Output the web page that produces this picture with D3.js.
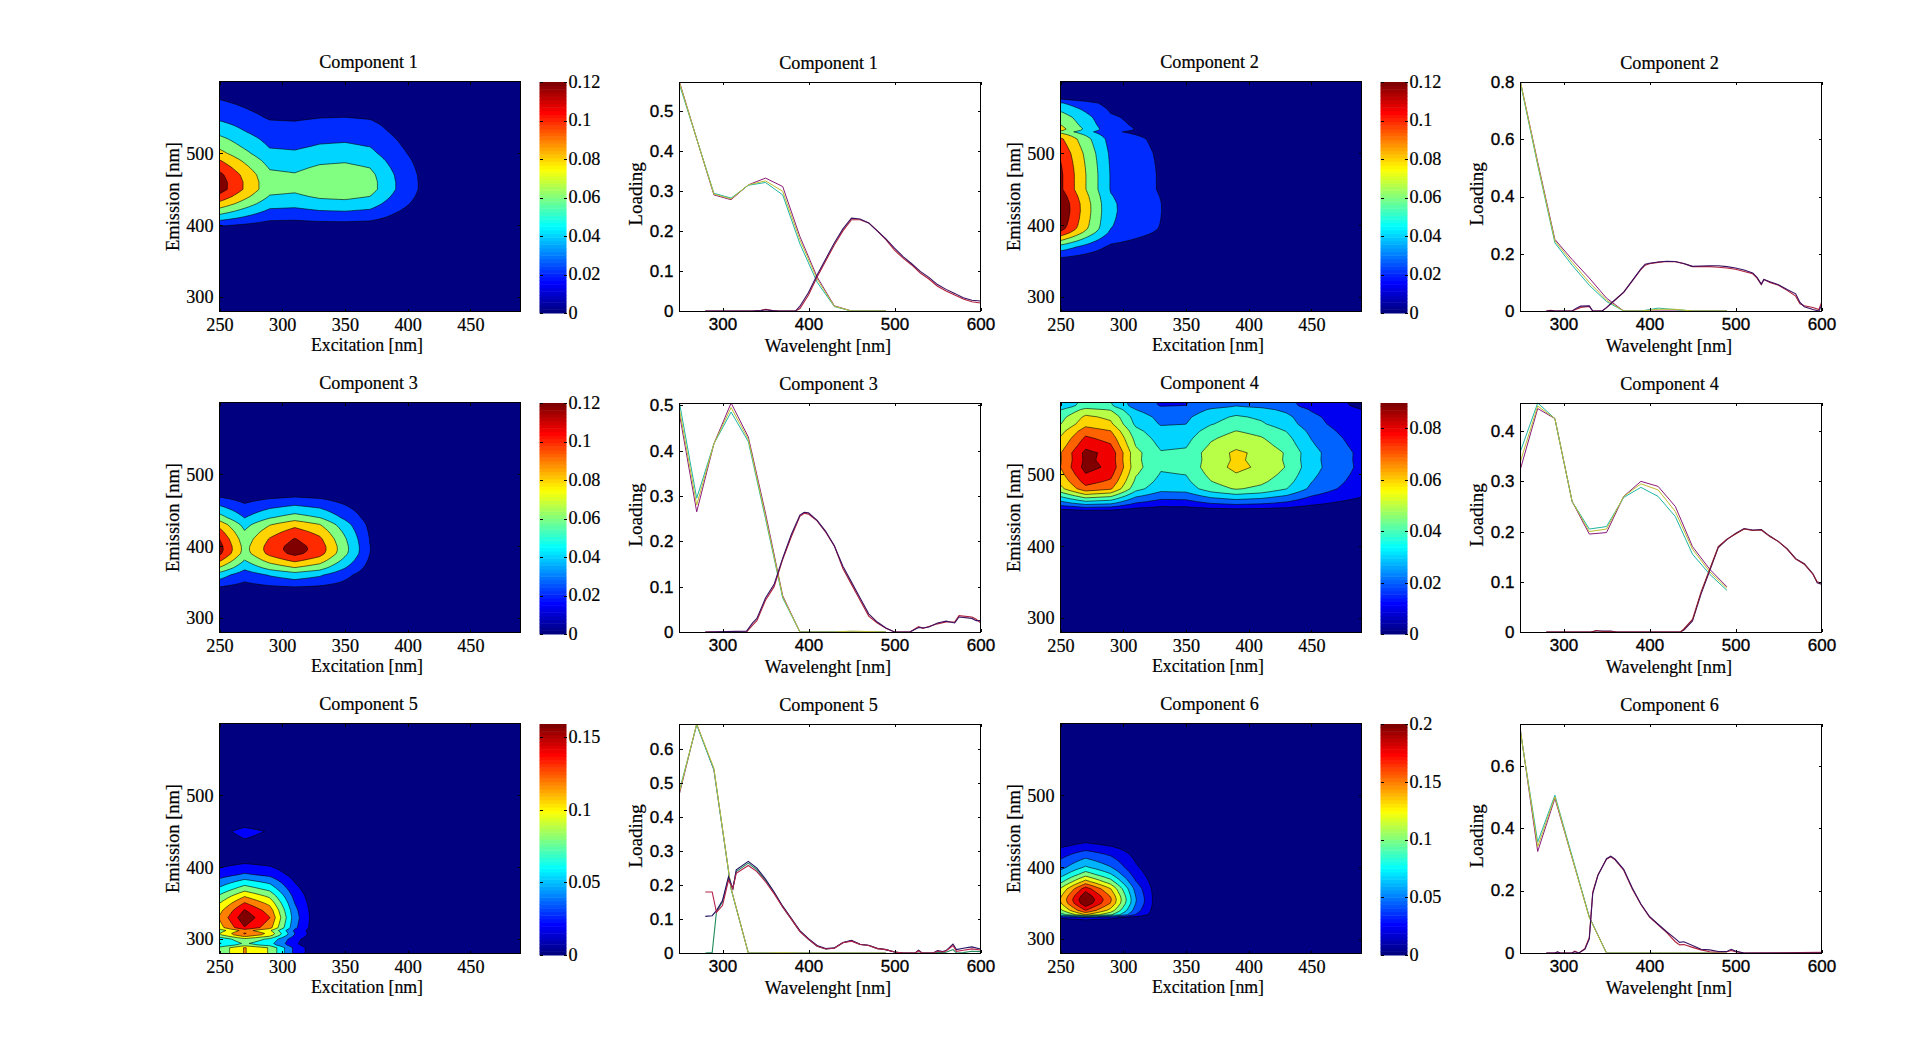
<!DOCTYPE html>
<html><head><meta charset="utf-8"><title>Components</title>
<script src="https://cdn.jsdelivr.net/npm/d3@7"></script>
<style>
html,body{margin:0;padding:0;background:#fff;overflow:hidden}
text{fill:#000}
.s{font-family:"Liberation Serif",serif;font-size:18.2px;stroke:#000;stroke-width:.2px}
.t{font-family:"Liberation Sans",sans-serif;font-size:17px;stroke:#000;stroke-width:.35px}
.axis path{display:none}
.axis line{stroke:#000;stroke-width:1;shape-rendering:crispEdges}
</style></head><body><script>
// Excitation wavelengths (nm) shared by every component
const exWl=[250,270,290,310,330,350,370,390,410,430,450,470,490];
// Excitation loadings (three overlaid split models)
const exA1=[.572,.43,.29,.278,.315,.332,.311,.186,.085,.013,0,0,0];
const exB1=[.57,.43,.292,.28,.315,.325,.299,.178,.08,.012,0,0,0];
const exC1=[.565,.43,.294,.282,.314,.321,.29,.168,.072,.011,0,0,0];
const exA2=[.8,.52,.25,.18,.115,.045,0,0,0,0,0,0,0];
const exB2=[.8,.515,.245,.17,.1,.038,0,0,.006,.006,0,0,0];
const exC2=[.795,.51,.238,.16,.09,.033,0,0,.01,.005,0,0,0];
const exA3=[.48,.265,.415,.505,.43,.262,.08,0,0,0,0,0,0];
const exB3=[.49,.28,.415,.495,.425,.255,.078,0,0,0,.002,.001,0];
const exC3=[.505,.295,.415,.485,.42,.25,.075,0,0,0,0,0,0];
const exA4=[.325,.445,.425,.26,.195,.198,.27,.3,.29,.25,.17,.125,.09];
const exB4=[.34,.45,.425,.26,.2,.205,.27,.295,.283,.24,.165,.12,.087];
const exC4=[.36,.456,.425,.26,.205,.21,.268,.288,.27,.23,.155,.115,.083];
const exA5=[.47,.675,.54,.19,0,0,0,0,0,0,0,0,0];
const exB5=[.475,.675,.545,.19,0,0,.001,0,0,0,0,0,0];
const exC5=[.48,.672,.54,.188,0,0,0,0,0,0,0,0,0];
const exA6=[.712,.325,.495,.305,.115,0,0,0,0,0,0,0,0];
const exB6=[.71,.34,.5,.305,.113,0,0,0,0,0,0,0,0];
const exC6=[.705,.355,.505,.31,.115,0,0,0,0,0,0,0,0];
// Excitation profiles read from the surfaces where they differ from the middle line of the panel
const surfaceEx2=[.8,.52,.25,.18,.118,.045,0,0,0,0,0,0,0];
const surfaceEx4=[.34,.456,.425,.26,.2,.205,.27,.303,.283,.24,.165,.12,.087];
const surfaceEx6=[.46,.72,.53,.2,0,0,0,0,0,0,0,0,0];

// Emission loadings
const emWl1=[280,335,345,350,358,365,385,390,400,410,420,430,440,450,460,470,480,490,500,510,520,530,540,550,560,570,580,590,600];
const emA1=[0,0,.002,.004,.001,0,0,.006,.04,.085,.125,.165,.2,.228,.228,.22,.2,.178,.152,.132,.115,.095,.08,.062,.05,.04,.03,.023,.02];
const emB1=[0,0,.001,.003,.001,0,0,.012,.046,.09,.13,.17,.205,.232,.23,.22,.2,.18,.157,.136,.118,.099,.084,.066,.054,.044,.033,.027,.025];
const emWl2=[280,285,290,310,315,320,330,334,345,350,358,370,380,390,395,400,410,420,430,440,450,460,470,480,490,500,510,520,525,530,533,540,550,560,570,575,580,590,597,600];
const emA2=[0,.002,0,0,.006,.012,.016,0,0,.012,.033,.065,.105,.145,.16,.165,.17,.173,.172,.165,.155,.155,.155,.153,.15,.146,.138,.13,.115,.092,.11,.1,.09,.072,.052,.025,.018,.012,.005,.03];
const emB2=[0,.001,0,0,.01,.017,.018,0,0,.012,.034,.066,.106,.147,.163,.167,.171,.174,.173,.166,.156,.157,.158,.158,.155,.15,.143,.133,.118,.094,.11,.102,.092,.075,.06,.03,.015,.005,0,.02];
const emWl3=[280,328,335,340,350,360,370,380,390,395,400,410,420,430,440,450,460,470,480,490,500,518,528,533,540,550,560,570,575,590,595,600];
const emA3=[0,0,.015,.025,.07,.1,.16,.21,.255,.262,.26,.245,.22,.19,.14,.105,.07,.035,.02,.008,0,0,.012,.008,.012,.018,.022,.022,.036,.033,.028,.02];
const emB3=[0,.002,.02,.03,.075,.105,.163,.215,.258,.264,.263,.246,.222,.19,.145,.11,.075,.04,.022,.009,0,0,.01,.009,.011,.02,.024,.02,.033,.03,.025,.025];
const emWl4=[280,332,338,345,355,362,370,436,440,450,460,470,480,490,500,510,520,530,540,550,560,570,580,590,595,600];
const emA4=[0,0,.003,.001,.001,0,0,0,.006,.025,.08,.125,.17,.185,.195,.205,.202,.203,.19,.18,.165,.145,.135,.115,.1,.097];
const emB4=[0,0,.002,.002,.002,0,0,0,.004,.022,.076,.122,.168,.184,.196,.206,.203,.204,.191,.18,.166,.146,.136,.116,.098,.095];
const emWl5=[280,288,293,300,307,312,316,330,340,350,360,370,380,390,400,410,420,430,440,450,460,470,480,490,500,510,524,528,532,545,550,556,560,568,572,580,590,600];
const emA5=[.18,.18,.12,.14,.215,.19,.235,.258,.24,.21,.175,.135,.1,.063,.04,.02,.012,.014,.03,.035,.025,.022,.013,.01,.003,0,0,.006,0,0,.005,.003,.006,.022,.005,.008,.012,.009];
const emB5=[.108,.11,.125,.155,.225,.19,.245,.27,.25,.218,.18,.138,.102,.066,.042,.022,.013,.015,.031,.037,.026,.023,.014,.01,.003,0,0,.008,0,0,.007,.004,.007,.026,.01,.014,.018,.012];
const emC5=[0,.001,.122,.15,.22,.19,.24,.265,.245,.214,.178,.136,.1,.064,.04,.02,.012,.014,.03,.036,.025,.022,.013,.01,.003,0,0,0,0,0,.002,.001,.002,.01,0,.001,.005,.004];
const emWl6=[280,290,293,296,310,313,318,325,330,334,340,350,355,360,370,380,390,400,410,420,430,435,440,450,460,470,480,490,495,500,510,600];
const emA6=[0,0,.003,0,0,.006,0,.015,.05,.195,.25,.3,.308,.298,.265,.205,.155,.115,.09,.065,.036,.026,.027,.018,.01,.004,.003,.004,.008,.004,0,.002];
const emB6=[0,0,.004,0,0,.004,0,.012,.045,.19,.248,.302,.31,.3,.268,.208,.157,.117,.092,.068,.046,.034,.036,.024,.012,.01,.005,.005,.012,.006,0,0];

// Contour levels, colour bar ranges and tick labels
const levels1=[0,.02,.04,.06,.08,.1,.12];
const levels4=[0,.01,.02,.03,.04,.05,.06,.07,.08,.09];
const levels5=[0,.02,.04,.06,.08,.1,.12,.14,.16];
const levels6=[0,.02,.04,.06,.08,.1,.12,.14,.16,.18,.2];
const cbMax=[.12,.12,.12,.0898,.159,.2];
const cbTicks1=[0,.02,.04,.06,.08,.1,.12];
const cbTicks4=[0,.02,.04,.06,.08];
const cbTicks5=[0,.05,.1,.15];
const cbTicks6=[0,.05,.1,.15,.2];
const lineMax=[.572,.8,.505,.456,.675,.733];
const lineTicks1=[0,.1,.2,.3,.4,.5];
const lineTicks2=[0,.2,.4,.6,.8];
const lineTicks3=[0,.1,.2,.3,.4,.5];
const lineTicks4=[0,.1,.2,.3,.4];
const lineTicks5=[0,.1,.2,.3,.4,.5,.6];
const lineTicks6=[0,.2,.4,.6];
const exTicks=[250,300,350,400,450];
const emTicks=[300,400,500];
const waveTicks=[300,400,500,600];

const redCol="#b0203a", darkCol="#3a1060";
const comps=[
 {n:1,ex:[exA1,exC1,exB1],sx:exB1,em:[[emA1,redCol],[emB1,darkCol]],wl:emWl1,surf:emA1,levels:levels1,cb:cbTicks1,yt:lineTicks1},
 {n:2,ex:[exA2,exC2,exB2],sx:surfaceEx2,em:[[emA2,redCol],[emB2,darkCol]],wl:emWl2,surf:emA2,levels:levels1,cb:cbTicks1,yt:lineTicks2},
 {n:3,ex:[exA3,exC3,exB3],sx:exB3,em:[[emA3,redCol],[emB3,darkCol]],wl:emWl3,surf:emA3,levels:levels1,cb:cbTicks1,yt:lineTicks3},
 {n:4,ex:[exA4,exC4,exB4],sx:surfaceEx4,em:[[emB4,darkCol],[emA4,"#8a1a2a"]],wl:emWl4,surf:emB4,levels:levels4,cb:cbTicks4,yt:lineTicks4},
 {n:5,ex:[exA5,exC5,exB5],sx:exB5,em:[[emC5,"#1f8a5a"],[emB5,"#221060"],[emA5,"#b5204a"]],wl:emWl5,surf:emA5,levels:levels5,cb:cbTicks5,yt:lineTicks5},
 {n:6,ex:[exA6,exC6,exB6],sx:surfaceEx6,em:[[emA6,redCol],[emB6,darkCol]],wl:emWl6,surf:emA6,levels:levels6,cb:cbTicks6,yt:lineTicks6}
];
const exCols=["#8a1a7a","#1fb5a4","#bdbd32"];

const clamp=v=>Math.max(0,Math.min(1,v));
const jet=t=>d3.rgb(255*clamp(Math.min(4*t-1.5,-4*t+4.5)),255*clamp(Math.min(4*t-.5,-4*t+3.5)),255*clamp(Math.min(4*t+.5,-4*t+2.5))).formatRgb();

const svg=d3.select("body").append("svg").attr("width",1921).attr("height",1062);
const rowTop=[81.5,402.5,723.5], H=230;
const colC=[219.5,1060.5], colL=[679.5,1520.5], W=301, cbDx=320, cbW=27;

function text(g,x,y,s,size,rot){
  const t=g.append("text").attr("class","s").attr("text-anchor","middle").style("font-size",size+"px");
  if(rot) t.attr("transform",`translate(${x},${y}) rotate(-90)`); else t.attr("x",x).attr("y",y);
  t.text(s);
}
function frame(g,w,h){
  g.append("rect").attr("width",w).attr("height",h).attr("fill","none").attr("stroke","#000").attr("stroke-width",1).attr("shape-rendering","crispEdges");
}
function ticks(g,x,y,xv,yv,w,h,serif,pad){
  const fmt=d=>String(d);
  const b=g.append("g").attr("class","axis").attr("transform",`translate(0,${h})`)
    .call(d3.axisBottom(x).tickValues(xv).tickSizeInner(-3).tickSizeOuter(0).tickPadding(pad).tickFormat(fmt));
  const l=g.append("g").attr("class","axis")
    .call(d3.axisLeft(y).tickValues(yv).tickSizeInner(-3).tickSizeOuter(0).tickPadding(6).tickFormat(fmt));
  g.append("g").attr("class","axis")
    .call(d3.axisTop(x).tickValues(xv).tickSizeInner(-3).tickSizeOuter(0).tickFormat(""));
  g.append("g").attr("class","axis").attr("transform",`translate(${w},0)`)
    .call(d3.axisRight(y).tickValues(yv).tickSizeInner(-3).tickSizeOuter(0).tickFormat(""));
  b.selectAll("text").attr("class",serif?"s":"t");
  l.selectAll("text").attr("class",serif?"s":"t");
}

comps.forEach((c,i)=>{
  const row=Math.floor(i/2), col=i%2, top=rowTop[row];
  // ---- surface panel
  const g=svg.append("g").attr("transform",`translate(${colC[col]},${top})`);
  const x=d3.scaleLinear().domain([250,490]).range([0,W]);
  const y=d3.scaleLinear().domain([280,600]).range([H,0]);
  const clipId="clip"+c.n;
  g.append("clipPath").attr("id",clipId).append("rect").attr("width",W).attr("height",H);
  // Surface = excitation loading x emission loading (PARAFAC model), both;
  // the emission trace is only resampled onto the 2 nm instrument mesh for contouring.
  const emAt=d3.scaleLinear().domain(c.wl).range(c.surf);
  const emMesh=d3.range(280,601,2);
  const grid=[];
  emMesh.forEach(e=>exWl.forEach((_,j)=>grid.push(c.sx[j]*emAt(e))));
  const top0=c.levels[c.levels.length-1];
  const paint=g.append("g").attr("clip-path",`url(#${clipId})`);
  paint.append("rect").attr("width",W).attr("height",H).attr("fill",jet(0));
  const contours=d3.contours().size([exWl.length,emMesh.length]).thresholds(c.levels.slice(1))(grid);
  const path=d3.geoPath(d3.geoTransform({point(px,py){
    this.stream.point(x(250+(px-.5)*20),y(280+(py-.5)*2));
  }}));
  paint.selectAll("path").data(contours).join("path")
    .attr("d",path).attr("fill",d=>jet(d.value/top0))
    .attr("stroke","#000").attr("stroke-width",.7).attr("stroke-opacity",.85);
  ticks(g,x,y,exTicks,emTicks,W,H,true,6.5);
  frame(g,W,H);
  text(g,W/2-1.5,-13.5,"Component "+c.n,18.2);
  text(g,W/2-3,H+39,"Excitation [nm]",17.8);
  text(g,-40.5,H/2,"Emission [nm]",18.4,true);
  // ---- colour bar
  const cb=svg.append("g").attr("transform",`translate(${colC[col]+cbDx},${top+.5})`);
  const cy=d3.scaleLinear().domain([0,cbMax[i]]).range([H+1,0]);
  const bins=d3.range(64);
  cb.selectAll("rect").data(bins).join("rect")
    .attr("x",0).attr("width",cbW)
    .attr("y",d=>cy((d+1)/64*cbMax[i])).attr("height",d=>cy(d/64*cbMax[i])-cy((d+1)/64*cbMax[i])+.5)
    .attr("fill",d=>jet(d/63));
  const ca=cb.append("g").attr("class","axis").attr("transform",`translate(${cbW},0)`)
    .call(d3.axisRight(cy).tickValues(c.cb).tickSizeInner(-3).tickSizeOuter(0).tickPadding(2).tickFormat(d=>String(d)));
  ca.selectAll("text").attr("class","s").attr("dy","0.3em");
  cb.append("g").attr("class","axis")
    .call(d3.axisLeft(cy).tickValues(c.cb).tickSizeInner(-3).tickSizeOuter(0).tickFormat(""));
  // ---- loading panel
  const h=svg.append("g").attr("transform",`translate(${colL[col]},${top+.5})`);
  const lx=d3.scaleLinear().domain([250,600]).range([0,W]);
  const ly=d3.scaleLinear().domain([0,lineMax[i]]).range([H-1,0]);
  const line=d3.line().x(d=>lx(d[0])).y(d=>ly(d[1]));
  c.ex.forEach((v,k)=>h.append("path").attr("d",line(exWl.map((w,j)=>[w,v[j]]))).attr("fill","none").attr("stroke",exCols[k]).attr("stroke-width",1));
  c.em.forEach(([v,col2])=>h.append("path").attr("d",line(c.wl.map((w,j)=>[w,v[j]]))).attr("fill","none").attr("stroke",col2).attr("stroke-width",1.1));
  ticks(h,lx,ly,waveTicks,c.yt,W,H-1,false,7);
  frame(h,W,H-1);
  text(h,W/2-1.5,-13.5,"Component "+c.n,18.2);
  text(h,W/2-2,H+40,"Wavelenght [nm]",18.2);
  text(h,-38,H/2-3,"Loading",19,true);
});
</script></body></html>
